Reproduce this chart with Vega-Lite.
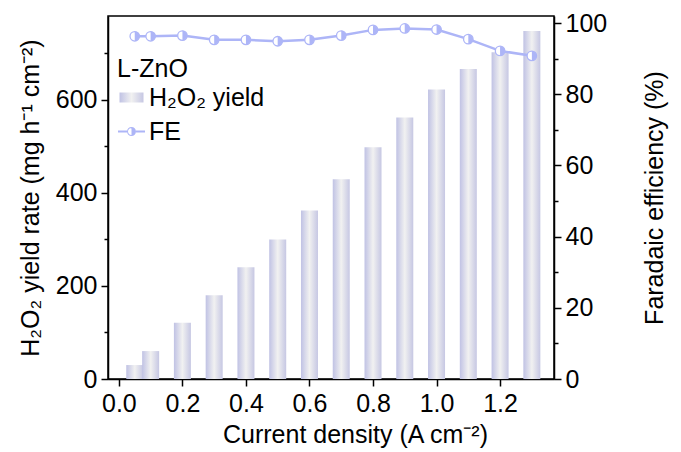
{
  "$schema": "https://vega.github.io/schema/vega-lite/v6.json",
  "width": 446,
  "height": 363,
  "autosize": "none",
  "padding": {"left": 108, "top": 16, "right": 127, "bottom": 73},
  "background": "white",
  "config": {
    "font": "Liberation Sans",
    "view": {"stroke": "black", "strokeWidth": 1.5},
    "axis": {
      "grid": false,
      "domainColor": "black",
      "domainWidth": 1.5,
      "tickColor": "black",
      "tickWidth": 1.5,
      "labelColor": "black",
      "titleColor": "black",
      "labelFont": "Liberation Sans",
      "titleFont": "Liberation Sans",
      "labelFontSize": 25,
      "titleFontSize": 25,
      "titleFontWeight": "normal"
    }
  },
  "datasets": {
    "yield": [
      {"j": 0.05, "rate": 30},
      {"j": 0.1, "rate": 60},
      {"j": 0.2, "rate": 121},
      {"j": 0.3, "rate": 180},
      {"j": 0.4, "rate": 240},
      {"j": 0.5, "rate": 300},
      {"j": 0.6, "rate": 362},
      {"j": 0.7, "rate": 429},
      {"j": 0.8, "rate": 498},
      {"j": 0.9, "rate": 562},
      {"j": 1.0, "rate": 622},
      {"j": 1.1, "rate": 666},
      {"j": 1.2, "rate": 702},
      {"j": 1.3, "rate": 748}
    ],
    "fe": [
      {"j": 0.05, "fe": 96.3},
      {"j": 0.1, "fe": 96.3},
      {"j": 0.2, "fe": 96.5},
      {"j": 0.3, "fe": 95.3},
      {"j": 0.4, "fe": 95.3},
      {"j": 0.5, "fe": 94.9},
      {"j": 0.6, "fe": 95.3},
      {"j": 0.7, "fe": 96.5},
      {"j": 0.8, "fe": 98.1},
      {"j": 0.9, "fe": 98.5},
      {"j": 1.0, "fe": 98.2},
      {"j": 1.1, "fe": 95.5},
      {"j": 1.2, "fe": 92.2},
      {"j": 1.3, "fe": 90.8}
    ]
  },
  "layer": [
    {
      "data": {"name": "yield"},
      "mark": {
        "type": "bar",
        "size": 17,
        "fill": {
          "gradient": "linear",
          "x1": 0, "y1": 0, "x2": 1, "y2": 0,
          "stops": [
            {"offset": 0, "color": "#c0c2e4"},
            {"offset": 0.5, "color": "#f1f1f1"},
            {"offset": 1, "color": "#c6c7e3"}
          ]
        }
      },
      "encoding": {
        "x": {
          "field": "j",
          "type": "quantitative",
          "scale": {"domain": [-0.0185, 1.354], "nice": false, "zero": false},
          "axis": {
            "title": "Current density (A cm⁻²)",
            "titleX": 247,
            "values": [0, 0.1, 0.2, 0.3, 0.4, 0.5, 0.6, 0.7, 0.8, 0.9, 1.0, 1.1, 1.2, 1.3],
            "labelExpr": "round(datum.value*10) % 2 === 0 ? format(datum.value, '.1f') : ''",
            "tickSize": {"condition": {"test": "round(datum.value*10) % 2 === 1", "value": 4}, "value": 7},
            "labelPadding": 5,
            "titlePadding": 6,
            "labelFlush": false
          }
        },
        "y": {
          "field": "rate",
          "type": "quantitative",
          "scale": {"domain": [0, 780], "nice": false},
          "axis": {
            "title": "H₂O₂ yield rate (mg h⁻¹ cm⁻²)",
            "values": [0, 100, 200, 300, 400, 500, 600, 700],
            "labelExpr": "datum.value % 200 === 0 ? datum.label : ''",
            "tickSize": {"condition": {"test": "datum.value % 200 !== 0", "value": 4}, "value": 7},
            "labelPadding": 4,
            "titlePadding": 12
          }
        }
      }
    },
    {
      "data": {"name": "fe"},
      "encoding": {
        "x": {"field": "j", "type": "quantitative"},
        "y": {
          "field": "fe",
          "type": "quantitative",
          "scale": {"domain": [0, 102], "nice": false},
          "axis": {
            "orient": "right",
            "title": "Faradaic efficiency (%)",
            "titleAngle": 270,
            "titleBaseline": "top",
            "values": [0, 10, 20, 30, 40, 50, 60, 70, 80, 90, 100],
            "labelExpr": "datum.value % 20 === 0 ? datum.label : ''",
            "tickSize": {"condition": {"test": "datum.value % 20 !== 0", "value": 4}, "value": 7},
            "labelPadding": 4,
            "titlePadding": 36
          }
        }
      },
      "layer": [
        {
          "mark": {"type": "line", "strokeWidth": 2.5},
          "encoding": {
            "color": {
              "datum": "FE",
              "type": "nominal",
              "scale": {"domain": ["H₂O₂ yield", "FE"], "range": ["#c9cbe6", "#adb5f7"]},
              "legend": {
                "orient": "none",
                "legendX": 9,
                "legendY": 41,
                "title": "L-ZnO",
                "titleFontSize": 25,
                "titleFontWeight": "normal",
                "titleColor": "black",
                "titleFont": "Liberation Sans",
                "titlePadding": 3,
                "labelFontSize": 25,
                "labelFont": "Liberation Sans",
                "labelColor": "black",
                "labelOffset": 5,
                "symbolOffset": 2,
                "rowPadding": 8,
                "padding": 0,
                "symbolSize": 100,
                "encode": {
                  "symbols": {
                    "update": {
                      "shape": {"signal": "datum.value === 'FE' ? 'M-2.7,-0.22L-0.9,-0.22L-0.9,0.22L-2.7,0.22ZM0.9,-0.22L2.7,-0.22L2.7,0.22L0.9,0.22ZM0,-0.9A0.9,0.9 0 0,1 0,0.9ZM0,-0.9A0.9,0.9 0 0,0 0,0.9L0,0.7A0.7,0.7 0 0,1 0,-0.7Z' : 'M-2.4,-1L2.4,-1L2.4,1L-2.4,1Z'"},
                      "fill": {"signal": "datum.value === 'FE' ? '#adb5f7' : {gradient: 'linear', x1: 0, y1: 0, x2: 1, y2: 0, stops: [{offset: 0, color: '#c0c2e4'}, {offset: 0.5, color: '#f1f1f1'}, {offset: 1, color: '#c6c7e3'}]}"},
                      "stroke": {"value": "transparent"},
                      "strokeWidth": {"value": 0},
                      "opacity": {"value": 1},
                      "size": {"value": 100}
                    }
                  }
                }
              }
            }
          }
        },
        {
          "mark": {"type": "point", "shape": "circle", "filled": true, "fill": "white", "stroke": "#adb5f7", "strokeWidth": 1.3, "size": 90, "opacity": 1}
        },
        {
          "mark": {"type": "point", "shape": "M0,-1A1,1 0 0,1 0,1Z", "filled": true, "fill": "#adb5f7", "strokeWidth": 0, "size": 90, "opacity": 1}
        }
      ]
    }
  ],
  "resolve": {"scale": {"y": "independent"}}
}
